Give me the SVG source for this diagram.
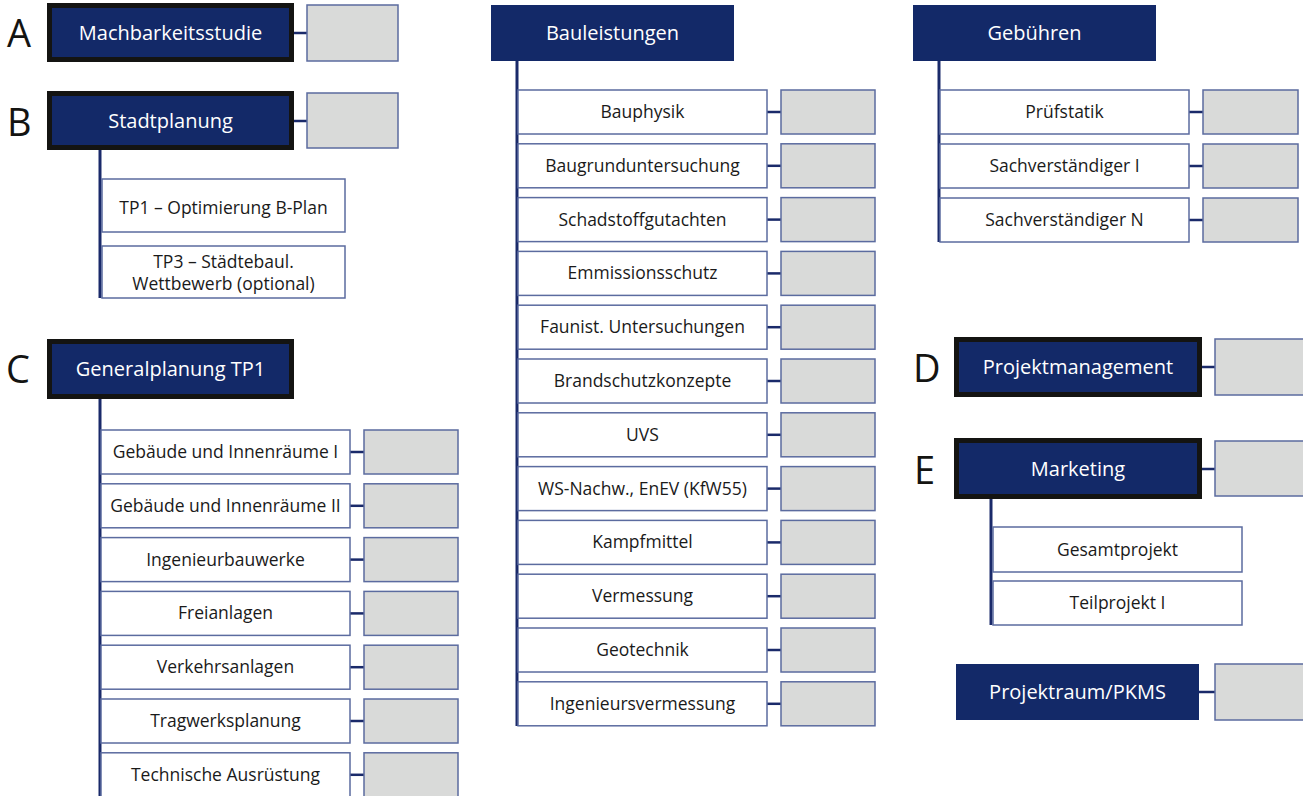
<svg xmlns="http://www.w3.org/2000/svg" width="1303" height="796" viewBox="0 0 1303 796">
<style>
.bg{fill:#ffffff}
.main{fill:#132968;stroke:#141412;stroke-width:5}
.head{fill:#132968}
.sub{fill:#ffffff;stroke:#5b6b9f;stroke-width:1.5}
.gray{fill:#d9dad9;stroke:#5b6b9f;stroke-width:1.5}
.ln{stroke:#1a2a6a;stroke-width:3;fill:none}
.cn{stroke:#1a2a6a;stroke-width:2.5;fill:none}
.mt{font-family:"Open Sans","Noto Sans",sans-serif;font-size:20px;fill:#ffffff;text-anchor:middle}
.st{font-family:"Open Sans","Noto Sans",sans-serif;font-size:17.5px;font-weight:500;fill:#1a1a1a;text-anchor:middle}
.lt{font-family:"Open Sans","Noto Sans",sans-serif;font-size:38px;font-weight:500;fill:#141412}
</style>
<rect class="bg" x="0" y="0" width="1303" height="796"/>

<g id="connectors">
<line class="cn" x1="294" y1="33" x2="307" y2="33"/>
<line class="cn" x1="294" y1="121" x2="307" y2="121"/>
<line class="ln" x1="100" y1="150" x2="100" y2="298"/>
<line class="ln" x1="100" y1="399" x2="100" y2="796"/>
<line class="cn" x1="350" y1="452" x2="364" y2="452"/>
<line class="cn" x1="350" y1="505.8" x2="364" y2="505.8"/>
<line class="cn" x1="350" y1="559.6" x2="364" y2="559.6"/>
<line class="cn" x1="350" y1="613.4" x2="364" y2="613.4"/>
<line class="cn" x1="350" y1="667.2" x2="364" y2="667.2"/>
<line class="cn" x1="350" y1="721" x2="364" y2="721"/>
<line class="cn" x1="350" y1="774.8" x2="364" y2="774.8"/>
<line class="ln" x1="517" y1="61" x2="517" y2="726"/>
<line class="cn" x1="767" y1="112" x2="781" y2="112"/>
<line class="cn" x1="767" y1="165.8" x2="781" y2="165.8"/>
<line class="cn" x1="767" y1="219.6" x2="781" y2="219.6"/>
<line class="cn" x1="767" y1="273.4" x2="781" y2="273.4"/>
<line class="cn" x1="767" y1="327.2" x2="781" y2="327.2"/>
<line class="cn" x1="767" y1="381" x2="781" y2="381"/>
<line class="cn" x1="767" y1="434.8" x2="781" y2="434.8"/>
<line class="cn" x1="767" y1="488.6" x2="781" y2="488.6"/>
<line class="cn" x1="767" y1="542.4" x2="781" y2="542.4"/>
<line class="cn" x1="767" y1="596.2" x2="781" y2="596.2"/>
<line class="cn" x1="767" y1="650" x2="781" y2="650"/>
<line class="cn" x1="767" y1="703.8" x2="781" y2="703.8"/>
<line class="ln" x1="939" y1="61" x2="939" y2="242"/>
<line class="cn" x1="1189" y1="112" x2="1203" y2="112"/>
<line class="cn" x1="1189" y1="166" x2="1203" y2="166"/>
<line class="cn" x1="1189" y1="220" x2="1203" y2="220"/>
<line class="cn" x1="1202" y1="367" x2="1215" y2="367"/>
<line class="cn" x1="1202" y1="469" x2="1215" y2="469"/>
<line class="ln" x1="991" y1="499" x2="991" y2="625"/>
<line class="cn" x1="1199" y1="692" x2="1215" y2="692"/>
</g>

<g id="letters">
<text class="lt" x="7" y="47">A</text>
<text class="lt" x="7" y="136">B</text>
<text class="lt" x="6" y="383">C</text>
<text class="lt" x="913" y="382">D</text>
<text class="lt" x="914" y="484">E</text>
</g>

<g id="nodeA">
<rect class="main" x="49.5" y="5.5" width="242" height="54"/>
<text class="mt" x="170.5" y="40">Machbarkeitsstudie</text>
<rect class="gray" x="307" y="5" width="91" height="56"/>
</g>

<g id="nodeB">
<rect class="main" x="49.5" y="93.5" width="242" height="54"/>
<text class="mt" x="170.5" y="128">Stadtplanung</text>
<rect class="gray" x="307" y="93" width="91" height="55"/>
</g>
<g id="nodeB1">
<rect class="sub" x="102" y="179" width="243" height="53"/>
<text class="st" x="223.5" y="214">TP1 – Optimierung B-Plan</text>
</g>
<g id="nodeB2">
<rect class="sub" x="102" y="246" width="243" height="52"/>
<text class="st" x="223.5" y="268">TP3 – Städtebaul.</text>
<text class="st" x="223.5" y="290">Wettbewerb (optional)</text>
</g>

<g id="nodeC">
<rect class="main" x="49.5" y="341.5" width="242" height="55"/>
<text class="mt" x="170.5" y="376">Generalplanung TP1</text>
</g>
<g id="nodeC1"><rect class="sub" x="101" y="430" width="249" height="44"/><text class="st" x="225.5" y="458">Gebäude und Innenräume I</text><rect class="gray" x="364" y="430" width="94" height="44"/></g>
<g id="nodeC2"><rect class="sub" x="101" y="483.8" width="249" height="44"/><text class="st" x="225.5" y="511.8">Gebäude und Innenräume II</text><rect class="gray" x="364" y="483.8" width="94" height="44"/></g>
<g id="nodeC3"><rect class="sub" x="101" y="537.6" width="249" height="44"/><text class="st" x="225.5" y="565.6">Ingenieurbauwerke</text><rect class="gray" x="364" y="537.6" width="94" height="44"/></g>
<g id="nodeC4"><rect class="sub" x="101" y="591.4" width="249" height="44"/><text class="st" x="225.5" y="619.4">Freianlagen</text><rect class="gray" x="364" y="591.4" width="94" height="44"/></g>
<g id="nodeC5"><rect class="sub" x="101" y="645.2" width="249" height="44"/><text class="st" x="225.5" y="673.2">Verkehrsanlagen</text><rect class="gray" x="364" y="645.2" width="94" height="44"/></g>
<g id="nodeC6"><rect class="sub" x="101" y="699" width="249" height="44"/><text class="st" x="225.5" y="727">Tragwerksplanung</text><rect class="gray" x="364" y="699" width="94" height="44"/></g>
<g id="nodeC7"><rect class="sub" x="101" y="752.8" width="249" height="44"/><text class="st" x="225.5" y="780.8">Technische Ausrüstung</text><rect class="gray" x="364" y="752.8" width="94" height="44"/></g>

<g id="nodeBau">
<rect class="head" x="491" y="5" width="243" height="56"/>
<text class="mt" x="612.5" y="40">Bauleistungen</text>
</g>
<g id="nodeM1"><rect class="sub" x="518" y="90" width="249" height="44"/><text class="st" x="642.5" y="118">Bauphysik</text><rect class="gray" x="781" y="90" width="94" height="44"/></g>
<g id="nodeM2"><rect class="sub" x="518" y="143.8" width="249" height="44"/><text class="st" x="642.5" y="171.8">Baugrunduntersuchung</text><rect class="gray" x="781" y="143.8" width="94" height="44"/></g>
<g id="nodeM3"><rect class="sub" x="518" y="197.6" width="249" height="44"/><text class="st" x="642.5" y="225.6">Schadstoffgutachten</text><rect class="gray" x="781" y="197.6" width="94" height="44"/></g>
<g id="nodeM4"><rect class="sub" x="518" y="251.4" width="249" height="44"/><text class="st" x="642.5" y="279.4">Emmissionsschutz</text><rect class="gray" x="781" y="251.4" width="94" height="44"/></g>
<g id="nodeM5"><rect class="sub" x="518" y="305.2" width="249" height="44"/><text class="st" x="642.5" y="333.2">Faunist. Untersuchungen</text><rect class="gray" x="781" y="305.2" width="94" height="44"/></g>
<g id="nodeM6"><rect class="sub" x="518" y="359" width="249" height="44"/><text class="st" x="642.5" y="387">Brandschutzkonzepte</text><rect class="gray" x="781" y="359" width="94" height="44"/></g>
<g id="nodeM7"><rect class="sub" x="518" y="412.8" width="249" height="44"/><text class="st" x="642.5" y="440.8">UVS</text><rect class="gray" x="781" y="412.8" width="94" height="44"/></g>
<g id="nodeM8"><rect class="sub" x="518" y="466.6" width="249" height="44"/><text class="st" x="642.5" y="494.6">WS-Nachw., EnEV (KfW55)</text><rect class="gray" x="781" y="466.6" width="94" height="44"/></g>
<g id="nodeM9"><rect class="sub" x="518" y="520.4" width="249" height="44"/><text class="st" x="642.5" y="548.4">Kampfmittel</text><rect class="gray" x="781" y="520.4" width="94" height="44"/></g>
<g id="nodeM10"><rect class="sub" x="518" y="574.2" width="249" height="44"/><text class="st" x="642.5" y="602.2">Vermessung</text><rect class="gray" x="781" y="574.2" width="94" height="44"/></g>
<g id="nodeM11"><rect class="sub" x="518" y="628" width="249" height="44"/><text class="st" x="642.5" y="656">Geotechnik</text><rect class="gray" x="781" y="628" width="94" height="44"/></g>
<g id="nodeM12"><rect class="sub" x="518" y="681.8" width="249" height="44"/><text class="st" x="642.5" y="709.8">Ingenieursvermessung</text><rect class="gray" x="781" y="681.8" width="94" height="44"/></g>

<g id="nodeGeb">
<rect class="head" x="913" y="5" width="243" height="56"/>
<text class="mt" x="1034.5" y="40">Gebühren</text>
</g>
<g id="nodeG1"><rect class="sub" x="940" y="90" width="249" height="44"/><text class="st" x="1064.5" y="118">Prüfstatik</text><rect class="gray" x="1203" y="90" width="95" height="44"/></g>
<g id="nodeG2"><rect class="sub" x="940" y="144" width="249" height="44"/><text class="st" x="1064.5" y="172">Sachverständiger I</text><rect class="gray" x="1203" y="144" width="95" height="44"/></g>
<g id="nodeG3"><rect class="sub" x="940" y="198" width="249" height="44"/><text class="st" x="1064.5" y="226">Sachverständiger N</text><rect class="gray" x="1203" y="198" width="95" height="44"/></g>

<g id="nodeD">
<rect class="main" x="956.5" y="339.5" width="243" height="55"/>
<text class="mt" x="1078" y="374">Projektmanagement</text>
<rect class="gray" x="1215" y="339" width="100" height="56"/>
</g>

<g id="nodeE">
<rect class="main" x="956.5" y="440.5" width="243" height="56"/>
<text class="mt" x="1078" y="476">Marketing</text>
<rect class="gray" x="1215" y="441" width="100" height="55"/>
</g>
<g id="nodeE1"><rect class="sub" x="993" y="527" width="249" height="45"/><text class="st" x="1117.5" y="555.5">Gesamtprojekt</text></g>
<g id="nodeE2"><rect class="sub" x="993" y="581" width="249" height="44"/><text class="st" x="1117.5" y="609">Teilprojekt I</text></g>

<g id="nodeP">
<rect class="head" x="956" y="664" width="243" height="56"/>
<text class="mt" x="1077.5" y="699">Projektraum/PKMS</text>
<rect class="gray" x="1215" y="664" width="100" height="56"/>
</g>
</svg>
